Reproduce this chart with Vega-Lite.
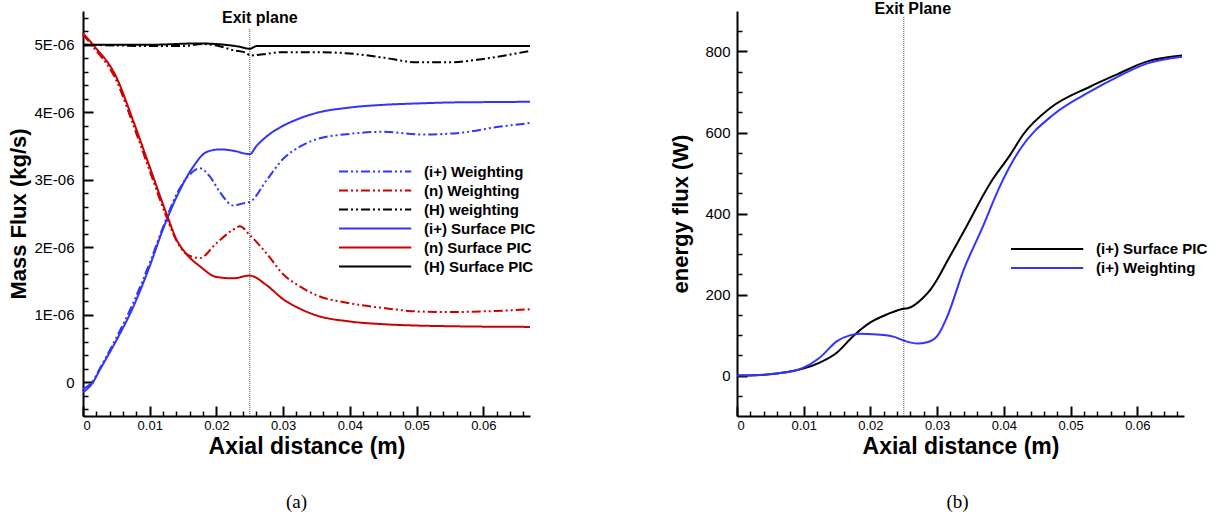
{
  "$schema": "https://vega.github.io/schema/vega-lite/v6.json",
  "padding": {"left": 7, "top": 0, "right": 5, "bottom": 5},
  "bounds": "flush",
  "spacing": 207,
  "resolve": {"scale": {"color": "independent", "strokeDash": "independent"}, "legend": {"color": "independent", "strokeDash": "independent"}},
  "config": {
    "view": {"stroke": null},
    "font": "Liberation Sans",
    "axis": {"grid": false, "domainColor": "black", "domainWidth": 2, "tickColor": "black", "labelColor": "black", "labelFont": "Liberation Sans", "labelFontSize": 15, "titleFont": "Liberation Sans", "titleFontWeight": "bold", "titleColor": "black"},
    "axisX": {"labelFontSize": 13},
    "legend": {"labelFont": "Liberation Sans", "labelFontSize": 15, "labelFontWeight": "bold", "labelColor": "black", "labelLimit": 400, "symbolType": "M-1,0H6.6", "symbolSize": 361, "symbolStrokeWidth": 2, "rowPadding": 0, "labelOffset": 65, "padding": 0},
    "title": {"font": "Liberation Serif", "fontSize": 19, "fontWeight": "normal", "color": "black"}
  },
  "datasets": {
    "mass": [
      {"s":"(i+) Weighting","x":0,"y":-1.0e-7},{"s":"(i+) Weighting","x":0.0015,"y":2.0e-8},{"s":"(i+) Weighting","x":0.0025,"y":2.0e-7},{"s":"(i+) Weighting","x":0.005,"y":6.6e-7},{"s":"(i+) Weighting","x":0.0075,"y":1.17e-6},{"s":"(i+) Weighting","x":0.01,"y":1.77e-6},{"s":"(i+) Weighting","x":0.012,"y":2.3e-6},{"s":"(i+) Weighting","x":0.014,"y":2.78e-6},{"s":"(i+) Weighting","x":0.016,"y":3.08e-6},{"s":"(i+) Weighting","x":0.0175,"y":3.17e-6},{"s":"(i+) Weighting","x":0.019,"y":3.05e-6},{"s":"(i+) Weighting","x":0.0205,"y":2.82e-6},{"s":"(i+) Weighting","x":0.0225,"y":2.62e-6},{"s":"(i+) Weighting","x":0.024,"y":2.65e-6},{"s":"(i+) Weighting","x":0.025,"y":2.67e-6},{"s":"(i+) Weighting","x":0.0275,"y":2.99e-6},{"s":"(i+) Weighting","x":0.03,"y":3.31e-6},{"s":"(i+) Weighting","x":0.0325,"y":3.49e-6},{"s":"(i+) Weighting","x":0.035,"y":3.6e-6},{"s":"(i+) Weighting","x":0.04,"y":3.68e-6},{"s":"(i+) Weighting","x":0.045,"y":3.71e-6},{"s":"(i+) Weighting","x":0.051,"y":3.67e-6},{"s":"(i+) Weighting","x":0.057,"y":3.7e-6},{"s":"(i+) Weighting","x":0.062,"y":3.78e-6},{"s":"(i+) Weighting","x":0.067,"y":3.84e-6},
      {"s":"(n) Weighting","x":0,"y":5.15e-6},{"s":"(n) Weighting","x":0.0015,"y":4.97e-6},{"s":"(n) Weighting","x":0.005,"y":4.47e-6},{"s":"(n) Weighting","x":0.0075,"y":3.82e-6},{"s":"(n) Weighting","x":0.01,"y":3.13e-6},{"s":"(n) Weighting","x":0.0125,"y":2.45e-6},{"s":"(n) Weighting","x":0.014,"y":2.1e-6},{"s":"(n) Weighting","x":0.0155,"y":1.9e-6},{"s":"(n) Weighting","x":0.0175,"y":1.84e-6},{"s":"(n) Weighting","x":0.02,"y":2.06e-6},{"s":"(n) Weighting","x":0.0225,"y":2.26e-6},{"s":"(n) Weighting","x":0.0235,"y":2.31e-6},{"s":"(n) Weighting","x":0.025,"y":2.18e-6},{"s":"(n) Weighting","x":0.0275,"y":1.91e-6},{"s":"(n) Weighting","x":0.03,"y":1.6e-6},{"s":"(n) Weighting","x":0.0325,"y":1.42e-6},{"s":"(n) Weighting","x":0.035,"y":1.29e-6},{"s":"(n) Weighting","x":0.04,"y":1.17e-6},{"s":"(n) Weighting","x":0.045,"y":1.1e-6},{"s":"(n) Weighting","x":0.05,"y":1.05e-6},{"s":"(n) Weighting","x":0.055,"y":1.04e-6},{"s":"(n) Weighting","x":0.06,"y":1.05e-6},{"s":"(n) Weighting","x":0.067,"y":1.08e-6},
      {"s":"(H) weighting","x":0,"y":5.0e-6},{"s":"(H) weighting","x":0.005,"y":4.99e-6},{"s":"(H) weighting","x":0.01,"y":4.98e-6},{"s":"(H) weighting","x":0.015,"y":4.98e-6},{"s":"(H) weighting","x":0.018,"y":5.01e-6},{"s":"(H) weighting","x":0.02,"y":4.99e-6},{"s":"(H) weighting","x":0.0225,"y":4.92e-6},{"s":"(H) weighting","x":0.0245,"y":4.88e-6},{"s":"(H) weighting","x":0.025,"y":4.84e-6},{"s":"(H) weighting","x":0.027,"y":4.86e-6},{"s":"(H) weighting","x":0.03,"y":4.89e-6},{"s":"(H) weighting","x":0.035,"y":4.89e-6},{"s":"(H) weighting","x":0.04,"y":4.87e-6},{"s":"(H) weighting","x":0.045,"y":4.81e-6},{"s":"(H) weighting","x":0.05,"y":4.74e-6},{"s":"(H) weighting","x":0.055,"y":4.74e-6},{"s":"(H) weighting","x":0.06,"y":4.79e-6},{"s":"(H) weighting","x":0.067,"y":4.91e-6},
      {"s":"(i+) Surface PIC","x":0,"y":-1.5e-7},{"s":"(i+) Surface PIC","x":0.0015,"y":0},{"s":"(i+) Surface PIC","x":0.0025,"y":1.8e-7},{"s":"(i+) Surface PIC","x":0.005,"y":6.2e-7},{"s":"(i+) Surface PIC","x":0.0075,"y":1.11e-6},{"s":"(i+) Surface PIC","x":0.01,"y":1.72e-6},{"s":"(i+) Surface PIC","x":0.012,"y":2.27e-6},{"s":"(i+) Surface PIC","x":0.014,"y":2.74e-6},{"s":"(i+) Surface PIC","x":0.0165,"y":3.19e-6},{"s":"(i+) Surface PIC","x":0.0185,"y":3.41e-6},{"s":"(i+) Surface PIC","x":0.0205,"y":3.45e-6},{"s":"(i+) Surface PIC","x":0.0225,"y":3.43e-6},{"s":"(i+) Surface PIC","x":0.025,"y":3.38e-6},{"s":"(i+) Surface PIC","x":0.026,"y":3.5e-6},{"s":"(i+) Surface PIC","x":0.0275,"y":3.64e-6},{"s":"(i+) Surface PIC","x":0.03,"y":3.8e-6},{"s":"(i+) Surface PIC","x":0.0325,"y":3.91e-6},{"s":"(i+) Surface PIC","x":0.035,"y":3.99e-6},{"s":"(i+) Surface PIC","x":0.04,"y":4.07e-6},{"s":"(i+) Surface PIC","x":0.045,"y":4.11e-6},{"s":"(i+) Surface PIC","x":0.05,"y":4.13e-6},{"s":"(i+) Surface PIC","x":0.055,"y":4.145e-6},{"s":"(i+) Surface PIC","x":0.06,"y":4.15e-6},{"s":"(i+) Surface PIC","x":0.067,"y":4.155e-6},
      {"s":"(n) Surface PIC","x":0,"y":5.17e-6},{"s":"(n) Surface PIC","x":0.0015,"y":5.0e-6},{"s":"(n) Surface PIC","x":0.005,"y":4.52e-6},{"s":"(n) Surface PIC","x":0.0075,"y":3.88e-6},{"s":"(n) Surface PIC","x":0.01,"y":3.19e-6},{"s":"(n) Surface PIC","x":0.0125,"y":2.5e-6},{"s":"(n) Surface PIC","x":0.014,"y":2.12e-6},{"s":"(n) Surface PIC","x":0.0155,"y":1.9e-6},{"s":"(n) Surface PIC","x":0.0175,"y":1.72e-6},{"s":"(n) Surface PIC","x":0.02,"y":1.56e-6},{"s":"(n) Surface PIC","x":0.0225,"y":1.54e-6},{"s":"(n) Surface PIC","x":0.025,"y":1.58e-6},{"s":"(n) Surface PIC","x":0.0275,"y":1.44e-6},{"s":"(n) Surface PIC","x":0.03,"y":1.23e-6},{"s":"(n) Surface PIC","x":0.0325,"y":1.09e-6},{"s":"(n) Surface PIC","x":0.035,"y":9.9e-7},{"s":"(n) Surface PIC","x":0.04,"y":9.0e-7},{"s":"(n) Surface PIC","x":0.045,"y":8.6e-7},{"s":"(n) Surface PIC","x":0.05,"y":8.4e-7},{"s":"(n) Surface PIC","x":0.055,"y":8.3e-7},{"s":"(n) Surface PIC","x":0.067,"y":8.2e-7},
      {"s":"(H) Surface PIC","x":0,"y":5.0e-6},{"s":"(H) Surface PIC","x":0.01,"y":5.0e-6},{"s":"(H) Surface PIC","x":0.0175,"y":5.02e-6},{"s":"(H) Surface PIC","x":0.02,"y":5.01e-6},{"s":"(H) Surface PIC","x":0.0235,"y":4.97e-6},{"s":"(H) Surface PIC","x":0.025,"y":4.94e-6},{"s":"(H) Surface PIC","x":0.026,"y":4.98e-6},{"s":"(H) Surface PIC","x":0.03,"y":4.98e-6},{"s":"(H) Surface PIC","x":0.067,"y":4.98e-6}
    ],
    "energy": [
      {"s":"(i+) Surface PIC","x":0,"y":0},{"s":"(i+) Surface PIC","x":0.0015,"y":0},{"s":"(i+) Surface PIC","x":0.006,"y":5},{"s":"(i+) Surface PIC","x":0.0084,"y":11},{"s":"(i+) Surface PIC","x":0.0099,"y":17},{"s":"(i+) Surface PIC","x":0.0124,"y":32},{"s":"(i+) Surface PIC","x":0.015,"y":57},{"s":"(i+) Surface PIC","x":0.0174,"y":97},{"s":"(i+) Surface PIC","x":0.02,"y":131},{"s":"(i+) Surface PIC","x":0.0225,"y":151},{"s":"(i+) Surface PIC","x":0.025,"y":165},{"s":"(i+) Surface PIC","x":0.0256,"y":166},{"s":"(i+) Surface PIC","x":0.0279,"y":192},{"s":"(i+) Surface PIC","x":0.029,"y":212},{"s":"(i+) Surface PIC","x":0.03,"y":237},{"s":"(i+) Surface PIC","x":0.0315,"y":282},{"s":"(i+) Surface PIC","x":0.034,"y":356},{"s":"(i+) Surface PIC","x":0.038,"y":476},{"s":"(i+) Surface PIC","x":0.041,"y":546},{"s":"(i+) Surface PIC","x":0.0429,"y":595},{"s":"(i+) Surface PIC","x":0.047,"y":661},{"s":"(i+) Surface PIC","x":0.0529,"y":713},{"s":"(i+) Surface PIC","x":0.0569,"y":743},{"s":"(i+) Surface PIC","x":0.0614,"y":775},{"s":"(i+) Surface PIC","x":0.0667,"y":790},
      {"s":"(i+)  Weighting","x":0,"y":0},{"s":"(i+)  Weighting","x":0.0015,"y":0},{"s":"(i+)  Weighting","x":0.006,"y":5},{"s":"(i+)  Weighting","x":0.0084,"y":11},{"s":"(i+)  Weighting","x":0.0099,"y":19},{"s":"(i+)  Weighting","x":0.0124,"y":44},{"s":"(i+)  Weighting","x":0.015,"y":85},{"s":"(i+)  Weighting","x":0.0169,"y":99},{"s":"(i+)  Weighting","x":0.0184,"y":103},{"s":"(i+)  Weighting","x":0.021,"y":101},{"s":"(i+)  Weighting","x":0.0234,"y":96},{"s":"(i+)  Weighting","x":0.0252,"y":85},{"s":"(i+)  Weighting","x":0.027,"y":79},{"s":"(i+)  Weighting","x":0.0285,"y":82},{"s":"(i+)  Weighting","x":0.03,"y":97},{"s":"(i+)  Weighting","x":0.0315,"y":145},{"s":"(i+)  Weighting","x":0.034,"y":262},{"s":"(i+)  Weighting","x":0.0367,"y":362},{"s":"(i+)  Weighting","x":0.0394,"y":467},{"s":"(i+)  Weighting","x":0.0424,"y":558},{"s":"(i+)  Weighting","x":0.0474,"y":644},{"s":"(i+)  Weighting","x":0.0529,"y":701},{"s":"(i+)  Weighting","x":0.0569,"y":736},{"s":"(i+)  Weighting","x":0.0614,"y":770},{"s":"(i+)  Weighting","x":0.0667,"y":787}
    ]
  },
  "hconcat": [
    {
      "width": 447,
      "height": 405,
      "title": {"text": "(a)", "orient": "bottom", "offset": 35, "dx": -10},
      "resolve": {"axis": {"x": "independent", "y": "independent"}},
      "layer": [
        {
          "data": {"values": [{"x": 0.025, "y": -5e-7, "y2": 5.24e-6}]},
          "mark": {"type": "rule", "color": "#555555", "strokeWidth": 1, "strokeDash": [1, 1]},
          "encoding": {
            "x": {"field": "x", "type": "quantitative", "scale": {"domain": [0, 0.067], "nice": false, "zero": false},
                  "axis": {"orient": "bottom", "values": [0.002,0.004,0.006,0.008,0.012,0.014,0.016,0.018,0.022,0.024,0.026,0.028,0.032,0.034,0.036,0.038,0.042,0.044,0.046,0.048,0.052,0.054,0.056,0.058,0.062,0.064,0.066], "labels": false, "domain": false, "tickSize": -5, "tickWidth": 1.5, "title": null}},
            "y": {"field": "y", "type": "quantitative", "scale": {"domain": [-5e-7, 5.5e-6], "nice": false, "zero": false},
                  "axis": {"orient": "left", "values": [-4e-7,-2e-7,2e-7,4e-7,6e-7,8e-7,1.2e-6,1.4e-6,1.6e-6,1.8e-6,2.2e-6,2.4e-6,2.6e-6,2.8e-6,3.2e-6,3.4e-6,3.6e-6,3.8e-6,4.2e-6,4.4e-6,4.6e-6,4.8e-6,5.2e-6,5.4e-6], "labels": false, "domain": false, "tickSize": -5, "tickWidth": 1.5, "title": null}},
            "y2": {"field": "y2"}
          }
        },
        {
          "data": {"name": "mass"},
          "mark": {"type": "line", "strokeWidth": 2, "interpolate": "monotone"},
          "encoding": {
            "x": {"field": "x", "type": "quantitative",
                  "axis": {"orient": "bottom", "values": [0,0.01,0.02,0.03,0.04,0.05,0.06], "labelExpr": "datum.value == 0 ? '0' : format(datum.value, '.2f')", "tickSize": -10, "tickWidth": 2, "labelPadding": 13, "title": "Axial distance (m)", "titleFontSize": 23, "titlePadding": 3}},
            "y": {"field": "y", "type": "quantitative",
                  "axis": {"orient": "left", "values": [0,1e-6,2e-6,3e-6,4e-6,5e-6], "labelExpr": "datum.value == 0 ? '0' : round(datum.value*1e6) + 'E-06'", "tickSize": -10, "tickWidth": 2, "labelPadding": 19, "title": "Mass Flux (kg/s)", "titleFontSize": 22, "titlePadding": 3}},
            "color": {"field": "s", "type": "nominal",
                      "scale": {"domain": ["(i+) Weighting","(n) Weighting","(H) weighting","(i+) Surface PIC","(n) Surface PIC","(H) Surface PIC"], "range": ["#3333ff","#cc0000","#000000","#3333ff","#cc0000","#000000"]},
                      "legend": {"title": null, "orient": "none", "legendX": 255, "legendY": 150}},
            "strokeDash": {"field": "s", "type": "nominal",
                      "scale": {"domain": ["(i+) Weighting","(n) Weighting","(H) weighting","(i+) Surface PIC","(n) Surface PIC","(H) Surface PIC"], "range": [[9,3,2,3,2,3],[9,3,2,3,2,3],[9,3,2,3,2,3],[1,0],[1,0],[1,0]]},
                      "legend": {"title": null, "orient": "none", "legendX": 255, "legendY": 150}}
          }
        },
        {
          "data": {"values": [{"x": 0.025, "y": 5.327e-6, "t": "Exit plane"}]},
          "mark": {"type": "text", "fontWeight": "bold", "fontSize": 16, "align": "center", "baseline": "alphabetic", "dx": 10, "color": "black"},
          "encoding": {
            "x": {"field": "x", "type": "quantitative", "axis": null},
            "y": {"field": "y", "type": "quantitative", "axis": null},
            "text": {"field": "t"}
          }
        }
      ]
    },
    {
      "width": 447,
      "height": 405,
      "title": {"text": "(b)", "orient": "bottom", "offset": 35, "dx": -3},
      "resolve": {"axis": {"x": "independent", "y": "independent"}},
      "layer": [
        {
          "data": {"values": [{"x": 0.025, "y": -100, "y2": 886}]},
          "mark": {"type": "rule", "color": "#555555", "strokeWidth": 1, "strokeDash": [1, 1]},
          "encoding": {
            "x": {"field": "x", "type": "quantitative", "scale": {"domain": [0, 0.067], "nice": false, "zero": false},
                  "axis": {"orient": "bottom", "values": [0.002,0.004,0.006,0.008,0.012,0.014,0.016,0.018,0.022,0.024,0.026,0.028,0.032,0.034,0.036,0.038,0.042,0.044,0.046,0.048,0.052,0.054,0.056,0.058,0.062,0.064,0.066], "labels": false, "domain": false, "tickSize": -5, "tickWidth": 1.5, "title": null}},
            "y": {"field": "y", "type": "quantitative", "scale": {"domain": [-100, 900], "nice": false, "zero": false},
                  "axis": {"orient": "left", "values": [-50,50,100,150,250,300,350,450,500,550,650,700,750,850], "labels": false, "domain": false, "tickSize": -5, "tickWidth": 1.5, "title": null}},
            "y2": {"field": "y2"}
          }
        },
        {
          "data": {"name": "energy"},
          "mark": {"type": "line", "strokeWidth": 2, "interpolate": "monotone"},
          "encoding": {
            "x": {"field": "x", "type": "quantitative",
                  "axis": {"orient": "bottom", "values": [0,0.01,0.02,0.03,0.04,0.05,0.06], "labelExpr": "datum.value == 0 ? '0' : format(datum.value, '.2f')", "tickSize": -10, "tickWidth": 2, "labelPadding": 13, "title": "Axial distance (m)", "titleFontSize": 23, "titlePadding": 3}},
            "y": {"field": "y", "type": "quantitative",
                  "axis": {"orient": "left", "values": [0,200,400,600,800], "tickSize": -10, "tickWidth": 2, "labelPadding": 17, "title": "energy flux (W)", "titleFontSize": 22, "titlePadding": 12}},
            "color": {"field": "s", "type": "nominal",
                      "scale": {"domain": ["(i+) Surface PIC","(i+)  Weighting"], "range": ["#000000","#3333ff"]},
                      "legend": {"title": null, "orient": "none", "legendX": 273, "legendY": 227.5}}
          }
        },
        {
          "data": {"values": [{"x": 0.025, "y": 892.6, "t": "Exit Plane"}]},
          "mark": {"type": "text", "fontWeight": "bold", "fontSize": 16, "align": "center", "baseline": "alphabetic", "dx": 9, "color": "black"},
          "encoding": {
            "x": {"field": "x", "type": "quantitative", "axis": null},
            "y": {"field": "y", "type": "quantitative", "axis": null},
            "text": {"field": "t"}
          }
        }
      ]
    }
  ]
}
